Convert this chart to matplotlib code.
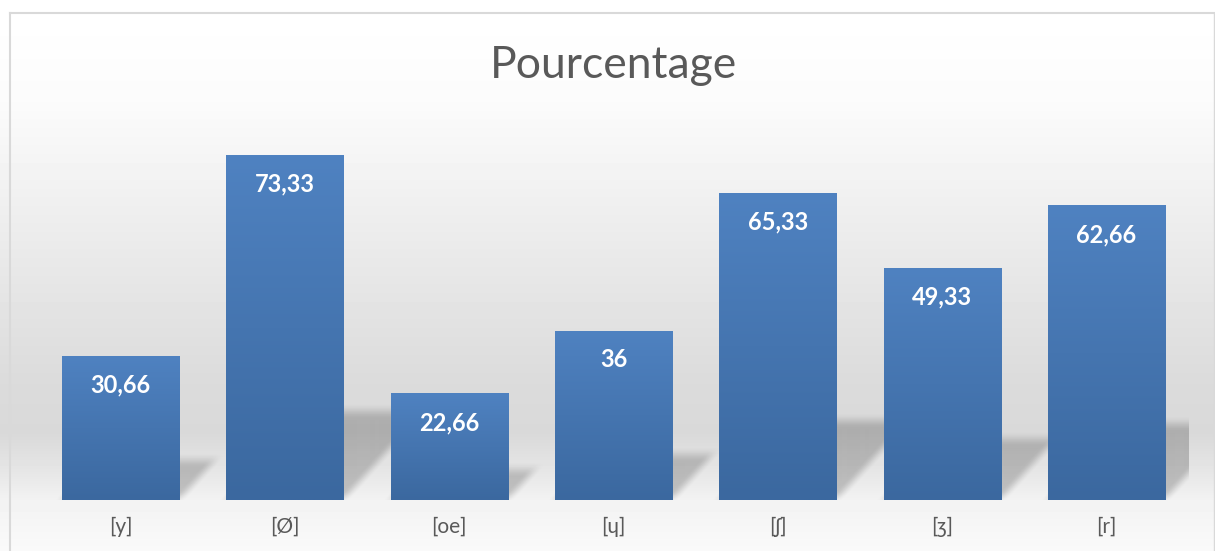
import matplotlib
matplotlib.use('Agg')
import matplotlib.pyplot as plt
from matplotlib.colors import LinearSegmentedColormap
import numpy as np

# data
sounds = ['[y]', '[Ø]', '[oe]', '[ɥ]', '[ʃ]', '[ʒ]', '[r]']
percent = [30.66, 73.33, 22.66, 36, 65.33, 49.33, 62.66]
value_labels = ['30,66', '73,33', '22,66', '36', '65,33', '49,33', '62,66']
title = 'Pourcentage'

W, H = 1215, 551
fig = plt.figure(figsize=(W / 100, H / 100), dpi=100)
fig.patch.set_facecolor('white')

# background gradient (white at top, grey behind the bars, light floor)
bg = fig.add_axes([0, 0, 1, 1], zorder=-10)
bg.axis('off')
rows = np.arange(H)
stops_y = [0, 13, 100, 200, 300, 380, 432, 470, 500, 551]
stops_v = [1.0, 1.0, 0.985, 0.94, 0.895, 0.86, 0.85, 0.9, 0.95, 0.98]
col = np.interp(rows, stops_y, stops_v)
bg.imshow(np.tile(col[:, None], (1, W)), cmap='gray', vmin=0, vmax=1,
          aspect='auto', extent=(0, 1, 0, 1), interpolation='nearest')
bg.set_xlim(0, 1)
bg.set_ylim(0, 1)

# chart border
bc = '#d9d9d9'
fig.add_artist(plt.Line2D([10 / W, 10 / W], [0, 1 - 12.5 / H], color=bc, lw=1.5))
fig.add_artist(plt.Line2D([10 / W, 1214 / W], [1 - 12.5 / H, 1 - 12.5 / H], color=bc, lw=1.5))
fig.add_artist(plt.Line2D([1214 / W, 1214 / W], [0, 1 - 12.5 / H], color=bc, lw=1.0))

left, right, bottom, top = 38.3, 1188.7, 51, 551 - 124
ax = fig.add_axes([left / W, bottom / H, (right - left) / W, (top - bottom) / H])
ax.patch.set_alpha(0)
for s in ax.spines.values():
    s.set_visible(False)

x = np.arange(len(sounds))
bw = 0.712
ax.set_xlim(-0.5, len(sounds) - 0.5)
ax.set_ylim(0, 80)

# bars with vertical gradient
bars = ax.bar(x, percent, width=bw, color='#4a7bb8', edgecolor='#8aa6cc',
              linewidth=0.6, zorder=3)
grad = np.linspace(0, 1, 256)[:, None]
bcmap = LinearSegmentedColormap.from_list('b', ['#3b689f', '#4f82c1'])
for b in bars:
    x0, y0 = b.get_x(), b.get_y()
    im = ax.imshow(grad, cmap=bcmap, origin='lower', aspect='auto',
                   extent=(x0, x0 + b.get_width(), y0, y0 + b.get_height()),
                   zorder=3.5)
    im.set_clip_path(b)

# soft perspective shadows behind bars
pxx = (right - left) / len(sounds)
pxy = (top - bottom) / 80.0
gx = np.linspace(-0.5, len(sounds) - 0.5, int(right - left))
gy = np.linspace(0, 80, int(top - bottom))
X, Y = np.meshgrid(gx, gy)
alpha = np.zeros_like(X)
blur = 8.0


def sm(t):
    t = np.clip(0.5 + 0.5 * t, 0, 1)
    return t * t * (3 - 2 * t)


for xi, h in zip(x, percent):
    px = (X - xi) * pxx
    py = Y * pxy
    s = 4 + 0.245 * h * pxy
    shift = 0.9 * py
    hw = bw * pxx / 2
    a = (sm((px - (-hw + shift)) / blur) * sm(((hw + shift) - px) / blur)
         * sm(py / blur) * sm((s - py) / blur))
    alpha = np.maximum(alpha, a)
rgba = np.zeros(alpha.shape + (4,))
rgba[..., 3] = alpha * 0.2
ax.imshow(rgba, origin='lower', aspect='auto',
          extent=(-0.5, len(sounds) - 0.5, 0, 80), zorder=1,
          interpolation='bilinear')

# value labels inside bars
for xi, h, lab in zip(x, percent, value_labels):
    ax.annotate(lab, (xi, h), xytext=(0, -29 * 0.72), textcoords='offset points',
                ha='center', va='center', color='white', fontsize=17,
                fontweight='bold', family=['Lato', 'DejaVu Sans'], zorder=5)

ax.set_yticks([])
ax.set_xticks(x)
ax.set_xticklabels(sounds, color='#595959', fontsize=15,
                   family=['Lato', 'DejaVu Sans'])
ax.tick_params(axis='x', length=0, pad=12)

fig.text(614 / W, 1 - 78 / H, title, ha='center', va='baseline',
         fontsize=32, color='#595959', family=['Lato', 'DejaVu Sans'])

fig.savefig('out.png', dpi=100)
